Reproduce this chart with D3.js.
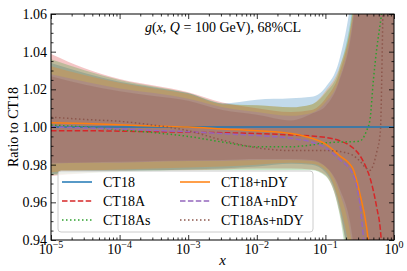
<!DOCTYPE html>
<html>
<head>
<meta charset="utf-8">
<script src="https://cdn.jsdelivr.net/npm/d3@7"></script>
<style>
  body { margin: 0; background: #fff; }
  text { font-family: "Liberation Serif", "DejaVu Serif", serif; fill: #000; }
</style>
</head>
<body>
<div id="chart"></div>
<script>
// x grid (momentum fraction)
const xGrid = [1e-5, 3.16e-5, 1e-4, 3.16e-4, 1e-3, 3.16e-3, 0.01, 0.0316, 0.063, 0.1, 0.158, 0.251,
  0.316, 0.398, 0.447, 0.501, 0.562, 0.631, 0.708, 0.794, 0.891, 1];

// central ratios
const ct18Mid = [1, 1, 1, 1, 1, 1, 1, 1, 1, 1, 1, 1, 1, 1, 1, 1, 1, 1, 1, 1, 1, 1];
const ct18aMid = [0.998, 0.998, 0.9978, 0.9975, 0.9972, 0.997, 0.9965, 0.9958, 0.9952, 0.9945, 0.9928, 0.989,
  0.985, 0.978, 0.973, 0.966, 0.957, 0.946, 0.92, 0.89, 0.86, 0.83];
const ct18asMid = [1.001, 1.0, 0.9985, 0.997, 0.995, 0.992, 0.9895, 0.9895, 0.9905, 0.9915, 0.992, 0.9922,
  0.9925, 0.998, 1.004, 1.025, 1.042, 1.055, 1.068, 1.08, 1.09, 1.1];
const ct18ndyMid = [1.0022, 1.0018, 1.0012, 1.0005, 1.0, 0.999, 0.998, 0.9965, 0.994, 0.991, 0.985, 0.978,
  0.965, 0.947, 0.932, 0.915, 0.9, 0.885, 0.87, 0.86, 0.85, 0.84];
const ct18andyMid = [1.0, 0.9995, 0.999, 0.9982, 0.9975, 0.9965, 0.9955, 0.994, 0.992, 0.989, 0.983, 0.975,
  0.96, 0.925, 0.91, 0.895, 0.88, 0.87, 0.86, 0.85, 0.84, 0.83];
const ct18asndyMid = [1.0052, 1.004, 1.003, 1.001, 0.998, 0.993, 0.989, 0.9875, 0.9875, 0.9875, 0.987, 0.985,
  0.982, 0.978, 0.977, 0.98, 0.987, 0.997, 1.08, 1.12, 1.14, 1.15];

// 68% CL band edges
const ct18Up = [1.034, 1.0285, 1.024, 1.021, 1.018, 1.0125, 1.0145, 1.0152, 1.016, 1.021, 1.035, 1.075,
  1.11, 1.15, 1.17, 1.19, 1.2, 1.2, 1.2, 1.2, 1.2, 1.2];
const ct18Lo = [0.975, 0.976, 0.9765, 0.977, 0.9775, 0.978, 0.979, 0.9805, 0.98, 0.976, 0.958, 0.91,
  0.87, 0.83, 0.8, 0.8, 0.8, 0.8, 0.8, 0.8, 0.8, 0.8];
const ct18aUp = [1.0387, 1.031, 1.0255, 1.022, 1.0185, 1.013, 1.01, 1.008, 1.009, 1.015, 1.028, 1.06,
  1.09, 1.12, 1.14, 1.16, 1.18, 1.2, 1.2, 1.2, 1.2, 1.2];
const ct18aLo = [0.974, 0.9755, 0.9765, 0.977, 0.977, 0.9775, 0.978, 0.978, 0.9775, 0.9745, 0.956, 0.91,
  0.87, 0.83, 0.8, 0.8, 0.8, 0.8, 0.8, 0.8, 0.8, 0.8];
const ct18asUp = [1.036, 1.03, 1.025, 1.0215, 1.018, 1.0125, 1.0115, 1.0105, 1.012, 1.018, 1.03, 1.065,
  1.1, 1.13, 1.15, 1.17, 1.19, 1.2, 1.2, 1.2, 1.2, 1.2];
const ct18asLo = [0.9745, 0.9755, 0.976, 0.9765, 0.977, 0.977, 0.977, 0.977, 0.977, 0.974, 0.955, 0.9,
  0.86, 0.83, 0.8, 0.8, 0.8, 0.8, 0.8, 0.8, 0.8, 0.8];
const ct18ndyUp = [1.0323, 1.0275, 1.0235, 1.0205, 1.0175, 1.012, 1.0115, 1.0105, 1.012, 1.019, 1.031, 1.062,
  1.1, 1.13, 1.15, 1.17, 1.19, 1.2, 1.2, 1.2, 1.2, 1.2];
const ct18ndyLo = [0.976, 0.977, 0.9775, 0.978, 0.9785, 0.979, 0.98, 0.981, 0.9805, 0.977, 0.96, 0.92,
  0.88, 0.84, 0.8, 0.8, 0.8, 0.8, 0.8, 0.8, 0.8, 0.8];
const ct18andyUp = [1.028, 1.024, 1.0205, 1.018, 1.015, 1.0105, 1.008, 1.006, 1.0075, 1.013, 1.025, 1.057,
  1.09, 1.12, 1.14, 1.16, 1.18, 1.2, 1.2, 1.2, 1.2, 1.2];
const ct18andyLo = [0.9805, 0.981, 0.981, 0.9815, 0.982, 0.982, 0.9825, 0.9825, 0.982, 0.979, 0.966, 0.935,
  0.9, 0.86, 0.82, 0.8, 0.8, 0.8, 0.8, 0.8, 0.8, 0.8];
const ct18asndyUp = [1.027, 1.0225, 1.019, 1.0165, 1.014, 1.009, 1.0065, 1.0035, 1.007, 1.011, 1.024, 1.055,
  1.09, 1.12, 1.14, 1.16, 1.18, 1.2, 1.2, 1.2, 1.2, 1.2];
const ct18asndyLo = [0.981, 0.9812, 0.9815, 0.982, 0.9822, 0.9825, 0.983, 0.983, 0.9825, 0.979, 0.968, 0.94,
  0.9, 0.86, 0.82, 0.8, 0.8, 0.8, 0.8, 0.8, 0.8, 0.8];

const names = ["CT18", "CT18A", "CT18As", "CT18+nDY", "CT18A+nDY", "CT18As+nDY"];
const xTicks = [1e-5, 1e-4, 1e-3, 1e-2, 1e-1, 1];
const xTickExp = ["\u22125", "\u22124", "\u22123", "\u22122", "\u22121", "0"];
const yTicks = [0.94, 0.96, 0.98, 1.00, 1.02, 1.04, 1.06];

const colors = ["#1f77b4", "#d62728", "#2ca02c", "#ff7f0e", "#9467bd", "#8c564b"];
const dashes = [null, "5.5,2.4", "1.5,2.5", null, "5.5,2.4", "1.5,2.5"];

const series = names.map((name, i) => ({
  name,
  mid: [ct18Mid, ct18aMid, ct18asMid, ct18ndyMid, ct18andyMid, ct18asndyMid][i],
  up: [ct18Up, ct18aUp, ct18asUp, ct18ndyUp, ct18andyUp, ct18asndyUp][i],
  lo: [ct18Lo, ct18aLo, ct18asLo, ct18ndyLo, ct18andyLo, ct18asndyLo][i],
  color: colors[i],
  dash: dashes[i]
}));

const width = 407, height = 271;
const pLeft = 51, pRight = 394, pTop = 14, pBottom = 240;

const svg = d3.select("#chart").append("svg")
  .attr("width", width)
  .attr("height", height);

const x = d3.scaleLog().domain([1e-5, 1]).range([pLeft, pRight]);
const y = d3.scaleLinear().domain([0.94, 1.06]).range([pBottom, pTop]);

svg.append("clipPath").attr("id", "plot")
  .append("rect")
  .attr("x", pLeft).attr("y", pTop)
  .attr("width", pRight - pLeft).attr("height", pBottom - pTop);

const plot = svg.append("g").attr("clip-path", "url(#plot)");

// bands
const area = d3.area()
  .x((d, i) => x(xGrid[i]))
  .y0(d => y(d[0]))
  .y1(d => y(d[1]))
  .curve(d3.curveMonotoneX);

series.forEach(s => {
  plot.append("path")
    .datum(s.lo.map((v, i) => [v, s.up[i]]))
    .attr("d", area)
    .attr("fill", s.color)
    .attr("fill-opacity", 0.27)
    .attr("stroke", "none");
});

// central lines
const line = d3.line()
  .x((d, i) => x(xGrid[i]))
  .y(d => y(d))
  .curve(d3.curveMonotoneX);

series.forEach(s => {
  plot.append("path")
    .datum(s.mid)
    .attr("d", line)
    .attr("fill", "none")
    .attr("stroke", s.color)
    .attr("stroke-width", 1.5)
    .attr("stroke-dasharray", s.dash);
});

// axes, inward ticks on all sides
const minorX = [];
for (let e = -5; e < 0; e++) for (let k = 2; k <= 9; k++) minorX.push(k * Math.pow(10, e));
const minorY = d3.range(0.94, 1.0601, 0.005).filter(v => !yTicks.some(t => Math.abs(t - v) < 1e-6));

function ticks(axis, vals, size, transform) {
  svg.append("g")
    .attr("transform", transform)
    .call(axis.tickValues(vals).tickSize(-size).tickSizeOuter(0).tickFormat(""))
    .call(g => g.select(".domain").remove())
    .call(g => g.selectAll("line").attr("stroke", "#000").attr("stroke-width", 0.8));
}
ticks(d3.axisBottom(x), xTicks, 5, `translate(0,${pBottom})`);
ticks(d3.axisBottom(x), minorX, 2.5, `translate(0,${pBottom})`);
ticks(d3.axisTop(x), xTicks, 5, `translate(0,${pTop})`);
ticks(d3.axisTop(x), minorX, 2.5, `translate(0,${pTop})`);
ticks(d3.axisLeft(y), yTicks, 5, `translate(${pLeft},0)`);
ticks(d3.axisLeft(y), minorY, 2.5, `translate(${pLeft},0)`);
ticks(d3.axisRight(y), yTicks, 5, `translate(${pRight},0)`);
ticks(d3.axisRight(y), minorY, 2.5, `translate(${pRight},0)`);

svg.append("rect")
  .attr("x", pLeft).attr("y", pTop)
  .attr("width", pRight - pLeft).attr("height", pBottom - pTop)
  .attr("fill", "none")
  .attr("stroke", "#000")
  .attr("stroke-width", 1);

// tick labels
xTicks.forEach((v, i) => {
  const t = svg.append("text")
    .attr("x", x(v))
    .attr("y", pBottom + 14)
    .attr("text-anchor", "middle")
    .style("font-size", "14px");
  t.append("tspan").text("10");
  t.append("tspan").attr("dy", -6).style("font-size", "10px").text(xTickExp[i]);
});

yTicks.forEach(v => {
  svg.append("text")
    .attr("x", pLeft - 4)
    .attr("y", y(v) + 5)
    .attr("text-anchor", "end")
    .style("font-size", "14px")
    .text(v.toFixed(2));
});

// axis titles
svg.append("text")
  .attr("x", (pLeft + pRight) / 2)
  .attr("y", 265)
  .attr("text-anchor", "middle")
  .style("font-size", "15px")
  .style("font-style", "italic")
  .text("x");

svg.append("text")
  .attr("transform", `translate(18,${(pTop + pBottom) / 2}) rotate(-90)`)
  .attr("text-anchor", "middle")
  .style("font-size", "14px")
  .text("Ratio to CT18");

// title
const title = svg.append("text")
  .attr("x", 223)
  .attr("y", 32)
  .attr("text-anchor", "middle")
  .style("font-size", "14px");
title.append("tspan").style("font-style", "italic").text("g");
title.append("tspan").text("(");
title.append("tspan").style("font-style", "italic").text("x");
title.append("tspan").text(", ");
title.append("tspan").style("font-style", "italic").text("Q");
title.append("tspan").text(" = 100 GeV),  68%CL");

// legend
const legend = svg.append("g");
legend.append("rect")
  .attr("x", 58).attr("y", 171)
  .attr("width", 255).attr("height", 61)
  .attr("rx", 3)
  .attr("fill", "#fff")
  .attr("fill-opacity", 0.8)
  .attr("stroke", "#ccc")
  .attr("stroke-width", 1);

series.forEach((s, i) => {
  const col = Math.floor(i / 3), row = i % 3;
  const lx = 62 + col * 118, ly = 182 + row * 19;
  legend.append("line")
    .attr("x1", lx).attr("x2", lx + 30)
    .attr("y1", ly).attr("y2", ly)
    .attr("stroke", s.color)
    .attr("stroke-width", 1.5)
    .attr("stroke-dasharray", s.dash);
  legend.append("text")
    .attr("x", lx + 41)
    .attr("y", ly + 5)
    .style("font-size", "14px")
    .text(s.name);
});
</script>
</body>
</html>
